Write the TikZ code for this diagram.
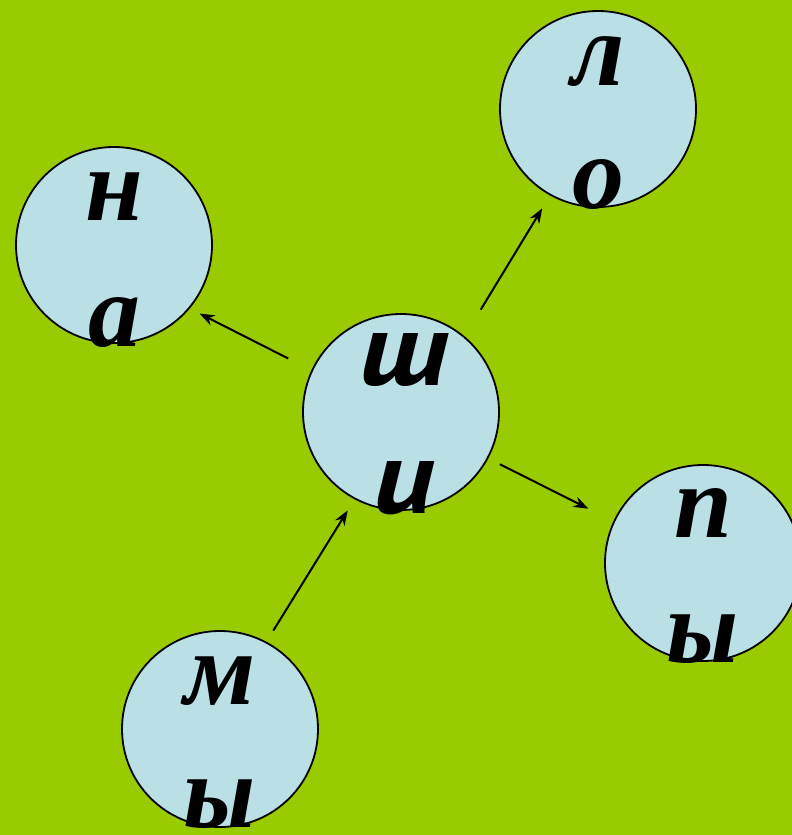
\documentclass[tikz,border=0pt]{standalone}
\usepackage{fontspec}
\setmainfont{Liberation Serif}
\newfontfamily\ptsans[FakeStretch=1.15]{PT Sans}
\usepackage{tikz}
\usetikzlibrary{arrows.meta}
\definecolor{bggreen}{RGB}{153,204,0}
\definecolor{discblue}{RGB}{186,224,229}

\begin{document}
\begin{tikzpicture}[
  x=1pt, y=-1pt,
  disc/.style={circle, draw=black, line width=1.8pt, fill=discblue,
               minimum size=196pt, inner sep=0pt},
  word/.style={anchor=base, inner sep=0pt,
               font=\fontsize{104}{125}\selectfont\bfseries\itshape},
  bigword/.style={word, font=\fontsize{104}{125}\selectfont\ptsans\bfseries\itshape},
  arr/.style={-{Stealth[length=15pt, width=11pt]}, line width=2pt},
]

\path[use as bounding box, fill=bggreen] (0,0) rectangle (792,835);

% circles
\node[disc] (na)  at (114,245) {};
\node[disc] (lo)  at (598,109) {};
\node[disc] (shi) at (401,412) {};
\node[disc] (py)  at (703,563) {};
\node[disc] (my)  at (220,729) {};

% letters
\node[word] (na1) at ([yshift=25pt]na.center) {н};
\node[word] (na2) at ([yshift=-101pt]na.center) {а};
\node[word] (lo1) at ([yshift=24pt]lo.center) {л};
\node[word] (lo2) at ([yshift=-99pt]lo.center) {о};
\node[bigword] (shi1) at ([xshift=3pt, yshift=27pt]shi.center) {ш};
\node[bigword] (shi2) at ([xshift=3pt, yshift=-101pt]shi.center) {и};
\node[word] (py1) at ([yshift=26pt]py.center) {п};
\node[word] (py2) at ([yshift=-99pt]py.center) {ы};
\node[word] (my1) at ([yshift=25pt]my.center) {м};
\node[word] (my2) at ([yshift=-98pt]my.center) {ы};

% arrows
\draw[arr, shorten <=26pt, shorten >=11pt] (shi.155) -- (na.320);
\draw[arr, shorten <=31pt, shorten >=15pt] (shi.50)  -- (lo.241);
\draw[arr, shorten <=13pt, shorten >=28pt] (shi.332) -- (py.155);
\draw[arr, shorten <=13pt, shorten >=13pt] (my.62)   -- (shi.242);

\end{tikzpicture}
\end{document}
